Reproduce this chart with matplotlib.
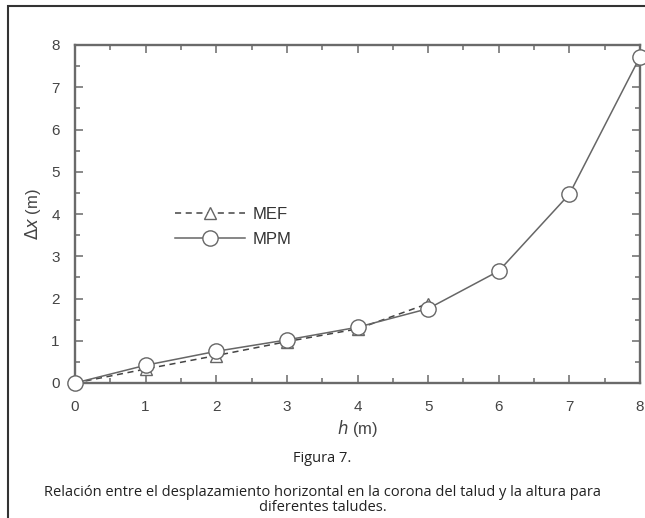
import matplotlib
matplotlib.use("Agg")
import matplotlib.pyplot as plt
from matplotlib.patches import Rectangle
from matplotlib.ticker import MultipleLocator

h_mpm = [0, 1, 2, 3, 4, 5, 6, 7, 8]
dx_mpm = [0.0, 0.42, 0.75, 1.02, 1.32, 1.76, 2.65, 4.47, 7.72]
h_mef = [0, 1, 2, 3, 4, 5]
dx_mef = [0.0, 0.33, 0.65, 0.98, 1.28, 1.88]

xticks = [0, 1, 2, 3, 4, 5, 6, 7, 8]
yticks = [0, 1, 2, 3, 4, 5, 6, 7, 8]

grey = "#6a6a6a"
fig = plt.figure(figsize=(6.45, 5.18), dpi=100)
fig.patches.append(Rectangle((8/645, -0.1), 1.2, 1 - 6/518 + 0.1, transform=fig.transFigure,
                             fill=False, edgecolor="#333333", lw=1.5))
ax = fig.add_axes([75/645, 1 - 383/518, (640 - 75)/645, (383 - 45)/518])

ax.plot(h_mef, dx_mef, ls=(0, (4, 3)), color="#444444", lw=1.1, marker="^", ms=9,
        mfc="white", mec="#666666", mew=1.0, label="MEF", zorder=3)
ax.plot(h_mpm, dx_mpm, ls="-", color="#666666", lw=1.1, marker="o", ms=11,
        mfc="white", mec="#666666", mew=1.0, label="MPM", zorder=4, clip_on=False)

ax.set_xlim(0, 8)
ax.set_ylim(0, 8)
ax.set_xticks(xticks)
ax.set_yticks(yticks)
ax.xaxis.set_minor_locator(MultipleLocator(0.5))
ax.yaxis.set_minor_locator(MultipleLocator(0.5))
ax.tick_params(which="both", direction="in", top=True, right=True, color=grey, width=1.1)
ax.tick_params(axis="x", which="major", length=6, labelsize=11, labelcolor="#444444", pad=12)
ax.tick_params(axis="y", which="major", length=6, labelsize=11, labelcolor="#444444", pad=11)
ax.tick_params(which="minor", length=3.5)
for sp in ax.spines.values():
    sp.set_color(grey)
    sp.set_linewidth(1.7)
for lbl in ax.get_xticklabels() + ax.get_yticklabels():
    lbl.set_family("Liberation Sans")

ax.set_xlabel(r"$h$ (m)", fontsize=12, color="#444444", family="Liberation Sans", labelpad=3)
ax.set_ylabel(r"$\Delta x$ (m)", fontsize=12, color="#444444", family="Liberation Sans", labelpad=6)

leg = ax.legend(loc="upper left", bbox_to_anchor=(0.15, 0.565), frameon=False, handlelength=4.2,
                fontsize=12, labelspacing=0.6, handletextpad=0.5)
for t in leg.get_texts():
    t.set_color("#333333")
    t.set_family("Liberation Sans")

fig.text(0.5, 1 - 459/518, "Figura 7.", ha="center", va="center", fontsize=10.5,
         family="Open Sans", color="#222222")
fig.text(0.5, 1 - 500/518, "Relación entre el desplazamiento horizontal en la corona del talud y la altura para\ndiferentes taludes.",
         ha="center", va="center", fontsize=10.5, family="Open Sans", color="#222222", linespacing=1.05)

fig.savefig("out.png", dpi=100)
